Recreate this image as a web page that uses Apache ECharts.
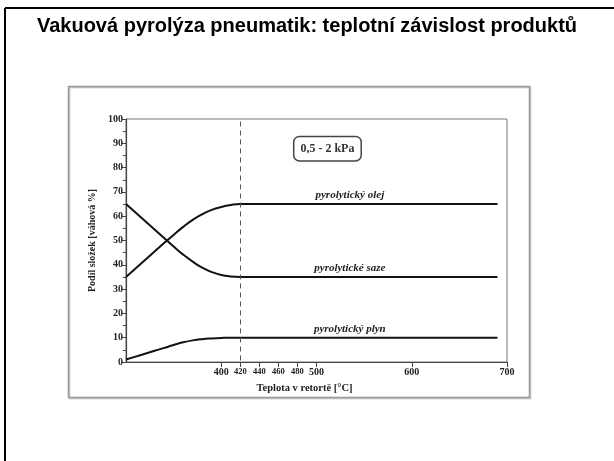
<!DOCTYPE html>
<html>
<head>
<meta charset="utf-8">
<script src="https://cdn.jsdelivr.net/npm/echarts@6/dist/echarts.min.js"></script>
<style>
  html, body { margin: 0; padding: 0; background: #fff; }
  #chart { width: 614px; height: 461px; }
</style>
</head>
<body>
<div id="chart"></div>
<script>
  // teplota v retortě [°C]
  const temps = [300, 310, 320, 330, 340, 350, 360, 370, 380, 390, 400, 410, 420, 500, 600, 690];
  // podíl složek [váhová %]
  const oil = [35, 38.5, 42, 45.5, 49, 52.3, 55.6, 58.5, 60.8, 62.6, 63.8, 64.6, 65, 65, 65, 65];
  const soot = [65, 61.5, 58, 54.5, 51, 47.5, 44.2, 41.3, 38.8, 37, 35.8, 35.2, 35, 35, 35, 35];
  const gas = [1, 2.2, 3.4, 4.6, 5.8, 7, 8.1, 8.9, 9.4, 9.7, 9.9, 10, 10, 10, 10, 10];

  const seriesNames = ['pyrolytický olej', 'pyrolytické saze', 'pyrolytický plyn'];
  const labelPos = [[535, 68.5], [535, 38.5], [535, 13.5]];
  const xTicks = [400, 420, 440, 460, 480, 500, 600, 700];
  const smallTicks = [420, 440, 460, 480];

  const serif = '"Liberation Serif", "DejaVu Serif", serif';
  const chart = echarts.init(document.getElementById('chart'));

  const makeSeries = (name, values, idx) => ({
    name: name,
    type: 'line',
    data: temps.map((t, i) => [t, values[i]]),
    smooth: 0.5,
    symbol: 'none',
    lineStyle: { color: '#111', width: 2 },
    markPoint: {
      symbol: 'circle',
      symbolSize: 0,
      data: [{ coord: labelPos[idx], value: name }],
      label: {
        show: true,
        position: 'inside',
        formatter: name,
        color: '#222',
        fontFamily: serif,
        fontStyle: 'italic',
        fontWeight: 'bold',
        fontSize: 11,
      },
    },
  });

  const series = [
    makeSeries(seriesNames[0], oil, 0),
    makeSeries(seriesNames[1], soot, 1),
    makeSeries(seriesNames[2], gas, 2),
  ];

  // svislá čára 420 °C
  series[0].markLine = {
    silent: true,
    symbol: 'none',
    label: { show: false },
    lineStyle: { color: '#555', width: 1, type: [5, 4] },
    data: [[{ coord: [420, 99] }, { coord: [420, 0] }]],
  };
  // rámeček s tlakem
  series.push({
    type: 'scatter',
    data: [],
    markPoint: {
      symbol: 'circle',
      symbolSize: 0,
      data: [{ coord: [511.5, 87.8], value: '0,5 - 2 kPa' }],
      label: {
        show: true,
        position: 'inside',
        formatter: '0,5 - 2 kPa',
        color: '#333',
        fontFamily: serif,
        fontWeight: 'bold',
        fontSize: 12,
        borderColor: '#444',
        borderWidth: 1.5,
        borderRadius: 5,
        padding: [6, 6, 5, 6],
        backgroundColor: '#fff',
      },
    },
  });

  const option = {
    animation: false,
    backgroundColor: '#fff',
    title: {
      text: 'Vakuová pyrolýza pneumatik: teplotní závislost produktů',
      left: 'center',
      top: 11,
      textStyle: {
        fontFamily: '"Liberation Sans", Arial, sans-serif',
        fontSize: 20,
        fontWeight: 'bold',
        color: '#000',
      },
    },
    graphic: [
      { type: 'line', shape: { x1: 5, y1: 8, x2: 614, y2: 8 }, style: { stroke: '#000', lineWidth: 2 } },
      { type: 'line', shape: { x1: 5, y1: 8, x2: 5, y2: 461 }, style: { stroke: '#000', lineWidth: 2 } },
      {
        type: 'rect',
        shape: { x: 68.5, y: 86.5, width: 461, height: 311 },
        style: { fill: 'none', stroke: '#999', lineWidth: 1.5, shadowColor: 'rgba(0,0,0,0.25)', shadowOffsetX: 1, shadowOffsetY: 1, shadowBlur: 1 },
        z: -1,
      },
    ],
    grid: {
      left: 126,
      top: 119,
      right: 107,
      bottom: 99,
      show: true,
      borderColor: '#777',
      borderWidth: 1,
      backgroundColor: 'transparent',
    },
    xAxis: {
      type: 'value',
      min: 300,
      max: 700,
      name: 'Teplota v retortě [°C]',
      nameLocation: 'middle',
      nameGap: 21,
      nameTextStyle: {
        fontFamily: serif,
        fontWeight: 'bold',
        fontSize: 10.5,
        color: '#222',
        padding: [0, 24, 0, 0],
      },
      axisLine: { lineStyle: { color: '#444', width: 1.2 } },
      axisTick: { show: true, customValues: xTicks, length: 5, lineStyle: { color: '#444' } },
      axisLabel: {
        customValues: xTicks,
        margin: 5,
        fontFamily: serif,
        fontWeight: 'bold',
        fontSize: 10,
        color: '#222',
        formatter: (v) => (smallTicks.includes(v) ? '{s|' + v + '}' : String(v)),
        rich: { s: { fontFamily: serif, fontWeight: 'bold', fontSize: 8.5, color: '#222' } },
      },
      splitLine: { show: false },
    },
    yAxis: {
      type: 'value',
      min: 0,
      max: 100,
      interval: 10,
      name: 'Podíl složek [váhová %]',
      nameLocation: 'middle',
      nameGap: 20,
      nameTextStyle: {
        fontFamily: serif,
        fontWeight: 'bold',
        fontSize: 10,
        color: '#222',
      },
      axisLine: { show: true, lineStyle: { color: '#444', width: 1.2 } },
      axisTick: { show: true, length: 4, lineStyle: { color: '#444' } },
      minorTick: { show: true, splitNumber: 2, length: 3, lineStyle: { color: '#444' } },
      axisLabel: {
        margin: 3,
        fontFamily: serif,
        fontWeight: 'bold',
        fontSize: 10,
        color: '#222',
      },
      splitLine: { show: false },
    },
    series: series,
  };

  chart.setOption(option);
</script>
</body>
</html>
